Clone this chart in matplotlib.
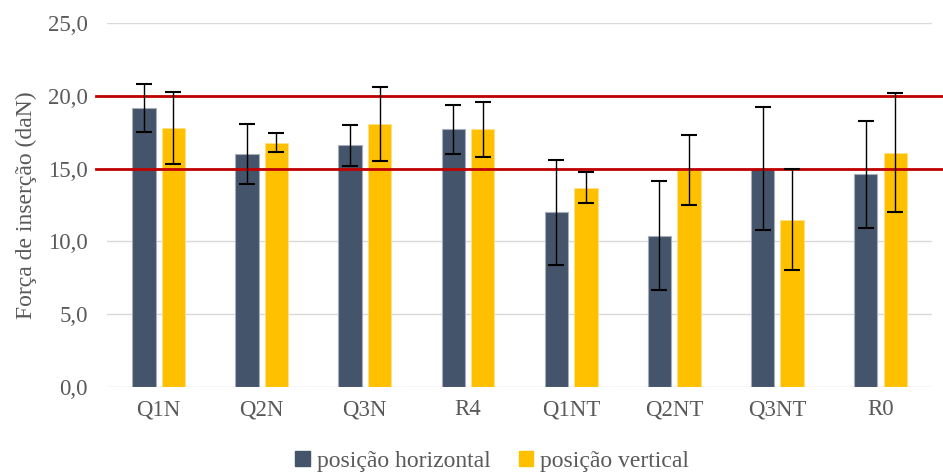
import matplotlib
matplotlib.use("Agg")
import matplotlib.pyplot as plt
from matplotlib.patches import Patch
import numpy as np

# Insertion force per connector type, two mounting positions
categories = ["Q1N", "Q2N", "Q3N", "R4", "Q1NT", "Q2NT", "Q3NT", "R0"]
horizontal = [19.2, 16.0, 16.6, 17.7, 12.0, 10.4, 15.0, 14.6]
horizontal_err = [1.65, 2.05, 1.4, 1.7, 3.6, 3.75, 4.25, 3.65]
vertical = [17.8, 16.8, 18.1, 17.7, 13.7, 14.9, 11.5, 16.1]
vertical_err = [2.5, 0.63, 2.55, 1.9, 1.08, 2.4, 3.45, 4.1]
limits = [15.0, 20.0]
yticks = [0, 5, 10, 15, 20, 25]

dark = "#44546A"
gold = "#FFC000"
red = "#C00000"
grid = "#D9D9D9"
text_col = "#595959"

plt.rcParams["font.family"] = ["Liberation Serif", "DejaVu Serif"]

fig = plt.figure(figsize=(9.43, 4.74), dpi=100)
ax = fig.add_axes([0.1135, 0.1842, 0.8749, 0.7666])

x = np.arange(len(categories))
w = 0.227
off = 0.143

ax.bar(x - off, horizontal, w, color=dark, edgecolor="#A6AEBB", linewidth=0.8, zorder=2)
ax.bar(x + off, vertical, w, color=gold, edgecolor="#FFE08A", linewidth=0.6, zorder=2)

for lim in limits:
    ax.axhline(lim, xmin=-0.013, xmax=1.014, color=red, linewidth=2.0,
               clip_on=False, zorder=3)

ekw = dict(fmt="none", ecolor="black", elinewidth=1.0, capsize=6, capthick=1.5, zorder=4)
ax.errorbar(x - off, horizontal, yerr=horizontal_err, **ekw)
ax.errorbar(x + off, vertical, yerr=vertical_err, **ekw)

ax.set_xlim(-0.5, len(categories) - 0.5)
ax.set_ylim(0, 25)
ax.set_yticks(yticks)
ax.set_yticklabels([f"{v:.1f}".replace(".", ",") for v in yticks])
ax.set_xticks(x)
ax.set_xticklabels(categories)
ax.yaxis.grid(True, color=grid, linewidth=1.0, zorder=0)
ax.set_axisbelow(True)
for s in ax.spines.values():
    s.set_visible(False)
ax.tick_params(axis="both", length=0, labelsize=16.5, colors=text_col)
ax.tick_params(axis="y", pad=14)
ax.tick_params(axis="x", pad=9)

ax.set_ylabel("Força de inserção (daN)", fontsize=17, color=text_col, labelpad=8)

handles = [Patch(color=dark, label="posição horizontal"),
           Patch(color=gold, label="posição vertical")]
fig.legend(handles=handles, loc="center", bbox_to_anchor=(0.522, 0.026), ncol=2,
           frameon=False, fontsize=17, labelcolor=text_col,
           handlelength=0.6, handleheight=0.6, handletextpad=0.3, columnspacing=1.2)

fig.savefig("out.png", dpi=100, facecolor="white")
